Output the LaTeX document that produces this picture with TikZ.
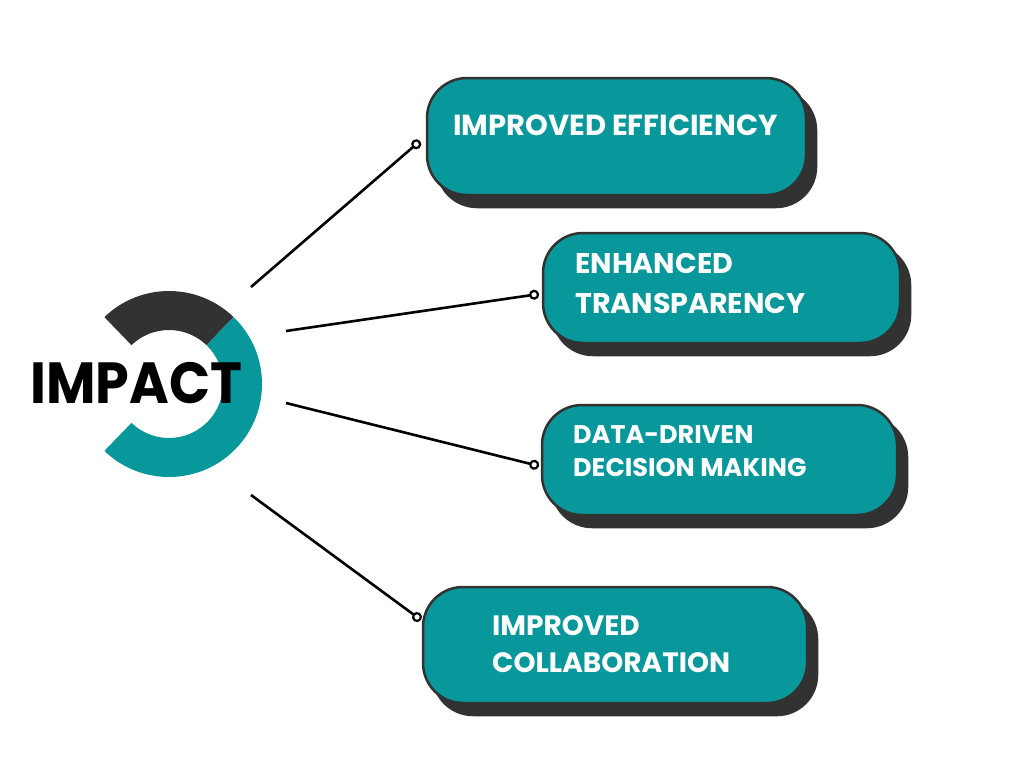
\documentclass[tikz,border=0pt]{standalone}
\usepackage{fontspec}
\setmainfont{Poppins}
\usetikzlibrary{shadows,arrows.meta,calc}
\definecolor{tealc}{HTML}{08979A}
\definecolor{darkc}{HTML}{323232}
\tikzset{
  box/.style={draw=darkc, line width=2.5pt, fill=tealc, rounded corners=40pt,
    copy shadow={shadow xshift=10pt, shadow yshift=-12pt, fill=darkc, draw=darkc}},
  lbl/.style={text=white, inner sep=0pt, anchor=base west},
  conn/.style={line width=2.6pt, black, -{Circle[open, length=10pt, width=10pt, line width=2.2pt]}},
}
\begin{document}
\begin{tikzpicture}[x=1pt,y=-1pt]
\useasboundingbox[fill=white] (0,0) rectangle (1024,768);
% ring
\fill[darkc] (169,384) ++(-134:93) arc[start angle=-134, end angle=-46, radius=93]
  -- ($(169,384)+(-46:54)$) arc[start angle=-46, end angle=-134, radius=54] -- cycle;
\fill[tealc] (169,384) ++(-46:93) arc[start angle=-46, end angle=134, radius=93]
  -- ($(169,384)+(134:54)$) arc[start angle=134, end angle=-46, radius=54] -- cycle;
\node[inner sep=0pt, anchor=base west] (impact) at (30,403)
  {\scalebox{0.93}[1]{\fontsize{58}{60}\selectfont\bfseries IMPACT}};
% boxes
\node[box, minimum width=379pt, minimum height=117pt] (b1) at (616.5,136.5) {};
\node[box, minimum width=357pt, minimum height=110pt] (b2) at (721.5,288) {};
\node[box, minimum width=355pt, minimum height=110pt] (b3) at (719.5,460) {};
\node[box, minimum width=384pt, minimum height=116pt] (b4) at (615,645) {};
% labels
\node[lbl] (t1) at (453,135) {\fontsize{29}{40}\selectfont\bfseries IMPROVED EFFICIENCY};
\node[lbl] (t2) at (575,273) {\fontsize{28.5}{40}\selectfont\bfseries
  \begin{tabular}[t]{@{}l@{}}ENHANCED\\TRANSPARENCY\end{tabular}};
\node[lbl] (t3) at (573,443) {\fontsize{25.5}{33.5}\selectfont\bfseries
  \begin{tabular}[t]{@{}l@{}}DATA-DRIVEN\\DECISION MAKING\end{tabular}};
\node[lbl] (t4) at (492,635) {\fontsize{28}{37}\selectfont\bfseries
  \begin{tabular}[t]{@{}l@{}}IMPROVED\\COLLABORATION\end{tabular}};
% connectors
\coordinate (s1) at (251,287); \coordinate (e1) at (420,141);
\coordinate (s2) at (286,331); \coordinate (e2) at (539,294);
\coordinate (s3) at (286,403); \coordinate (e3) at (539,466);
\coordinate (s4) at (251,495); \coordinate (e4) at (421,620);
\draw[conn] (s1) -- (e1);
\draw[conn] (s2) -- (e2);
\draw[conn] (s3) -- (e3);
\draw[conn] (s4) -- (e4);
\end{tikzpicture}
\end{document}
